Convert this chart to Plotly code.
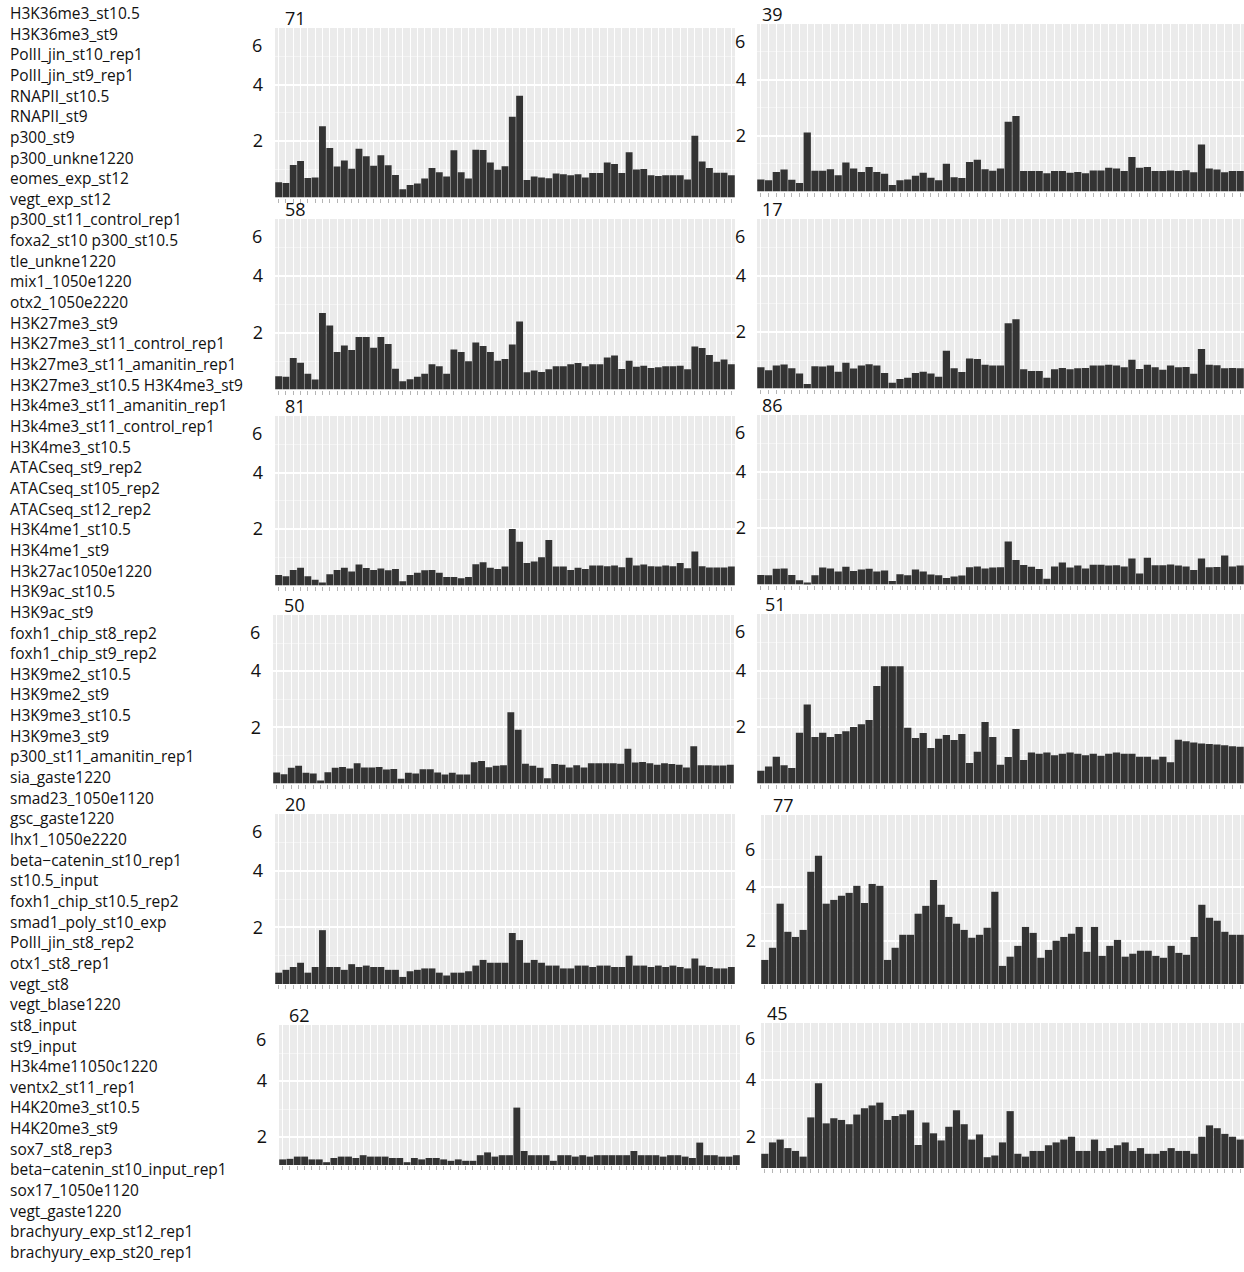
import plotly.graph_objects as go

W, H = 1244, 1272

row_labels = [
    "H3K36me3_st10.5", "H3K36me3_st9", "PolII_jin_st10_rep1", "PolII_jin_st9_rep1",
    "RNAPII_st10.5", "RNAPII_st9", "p300_st9", "p300_unkne1220", "eomes_exp_st12",
    "vegt_exp_st12", "p300_st11_control_rep1", "foxa2_st10 p300_st10.5", "tle_unkne1220",
    "mix1_1050e1220", "otx2_1050e2220", "H3K27me3_st9", "H3K27me3_st11_control_rep1",
    "H3k27me3_st11_amanitin_rep1", "H3K27me3_st10.5 H3K4me3_st9", "H3k4me3_st11_amanitin_rep1",
    "H3k4me3_st11_control_rep1", "H3K4me3_st10.5", "ATACseq_st9_rep2", "ATACseq_st105_rep2",
    "ATACseq_st12_rep2", "H3K4me1_st10.5", "H3K4me1_st9", "H3k27ac1050e1220", "H3K9ac_st10.5",
    "H3K9ac_st9", "foxh1_chip_st8_rep2", "foxh1_chip_st9_rep2", "H3K9me2_st10.5", "H3K9me2_st9",
    "H3K9me3_st10.5", "H3K9me3_st9", "p300_st11_amanitin_rep1", "sia_gaste1220",
    "smad23_1050e1120", "gsc_gaste1220", "lhx1_1050e2220", "beta\u2212catenin_st10_rep1",
    "st10.5_input", "foxh1_chip_st10.5_rep2", "smad1_poly_st10_exp", "PolII_jin_st8_rep2",
    "otx1_st8_rep1", "vegt_st8", "vegt_blase1220", "st8_input", "st9_input", "H3k4me11050c1220",
    "ventx2_st11_rep1", "H4K20me3_st10.5", "H4K20me3_st9", "sox7_st8_rep3",
    "beta\u2212catenin_st10_input_rep1", "sox17_1050e1120", "vegt_gaste1220",
    "brachyury_exp_st12_rep1", "brachyury_exp_st20_rep1",
]

bins = list(range(1, 64))

panel_titles = ["71", "39", "58", "17", "81", "86", "50", "51", "20", "77", "62", "45"]

v71 = [0.54, 0.51, 1.15, 1.29, 0.69, 0.71, 2.52, 1.75, 1.10, 1.31, 1.02, 1.73, 1.46, 1.12, 1.50, 1.14,
       0.80, 0.29, 0.44, 0.50, 0.67, 1.04, 0.89, 0.74, 1.67, 0.89, 0.67, 1.69, 1.68, 1.24, 0.98, 1.11,
       2.86, 3.60, 0.62, 0.74, 0.71, 0.68, 0.85, 0.82, 0.79, 0.82, 0.71, 0.87, 0.87, 1.24, 1.19, 0.87,
       1.60, 0.99, 1.01, 0.79, 0.76, 0.79, 0.79, 0.79, 0.64, 2.19, 1.27, 1.04, 0.88, 0.88, 0.79]
v39 = [0.43, 0.40, 0.70, 0.79, 0.42, 0.30, 2.11, 0.74, 0.74, 0.80, 0.58, 1.04, 0.82, 0.70, 0.88, 0.70,
       0.64, 0.23, 0.40, 0.43, 0.56, 0.67, 0.49, 0.40, 0.99, 0.51, 0.48, 1.06, 1.14, 0.80, 0.74, 0.82,
       2.50, 2.70, 0.73, 0.73, 0.73, 0.65, 0.73, 0.73, 0.67, 0.70, 0.65, 0.75, 0.75, 0.85, 0.82, 0.73,
       1.24, 0.85, 0.88, 0.73, 0.73, 0.75, 0.73, 0.76, 0.69, 1.68, 0.82, 0.79, 0.69, 0.73, 0.73]
v58 = [0.47, 0.45, 1.11, 0.94, 0.55, 0.35, 2.69, 2.25, 1.32, 1.55, 1.39, 1.85, 1.85, 1.47, 1.85, 1.60,
       0.73, 0.29, 0.36, 0.45, 0.55, 0.89, 0.82, 0.55, 1.41, 1.32, 0.99, 1.65, 1.53, 1.32, 1.01, 1.07,
       1.58, 2.39, 0.61, 0.67, 0.62, 0.71, 0.82, 0.82, 0.89, 0.93, 0.82, 0.89, 0.89, 1.13, 1.20, 0.72,
       1.01, 0.80, 0.84, 0.76, 0.78, 0.82, 0.82, 0.84, 0.71, 1.51, 1.46, 1.21, 0.98, 1.06, 0.89]
v17 = [0.75, 0.65, 0.81, 0.85, 0.72, 0.53, 0.16, 0.79, 0.78, 0.81, 0.59, 0.91, 0.71, 0.81, 0.86, 0.81,
       0.55, 0.20, 0.34, 0.38, 0.55, 0.59, 0.53, 0.42, 1.34, 0.72, 0.58, 1.06, 1.04, 0.84, 0.81, 0.81,
       2.31, 2.45, 0.68, 0.62, 0.62, 0.38, 0.68, 0.73, 0.68, 0.72, 0.73, 0.81, 0.81, 0.84, 0.81, 0.75,
       1.02, 0.69, 0.84, 0.75, 0.66, 0.81, 0.75, 0.76, 0.52, 1.40, 0.84, 0.82, 0.72, 0.73, 0.72]
v81 = [0.37, 0.33, 0.55, 0.63, 0.33, 0.20, 0.11, 0.40, 0.55, 0.63, 0.50, 0.74, 0.62, 0.55, 0.60, 0.54,
       0.58, 0.15, 0.37, 0.45, 0.54, 0.55, 0.45, 0.30, 0.30, 0.26, 0.30, 0.75, 0.82, 0.63, 0.58, 0.67,
       2.00, 1.55, 0.80, 0.85, 1.00, 1.61, 0.67, 0.67, 0.55, 0.63, 0.58, 0.71, 0.71, 0.68, 0.71, 0.65,
       0.98, 0.71, 0.74, 0.68, 0.67, 0.71, 0.68, 0.80, 0.61, 1.20, 0.68, 0.64, 0.64, 0.64, 0.67]
v86 = [0.34, 0.33, 0.56, 0.57, 0.34, 0.15, 0.07, 0.33, 0.60, 0.57, 0.46, 0.63, 0.48, 0.53, 0.56, 0.46,
       0.50, 0.12, 0.36, 0.33, 0.53, 0.46, 0.35, 0.33, 0.23, 0.28, 0.32, 0.61, 0.64, 0.57, 0.60, 0.61,
       1.52, 0.87, 0.69, 0.63, 0.55, 0.20, 0.64, 0.78, 0.60, 0.67, 0.57, 0.70, 0.70, 0.67, 0.68, 0.64,
       0.92, 0.39, 0.95, 0.68, 0.68, 0.71, 0.67, 0.64, 0.51, 0.92, 0.61, 0.62, 1.03, 0.64, 0.67]
v50 = [0.39, 0.33, 0.56, 0.63, 0.38, 0.36, 0.11, 0.40, 0.56, 0.59, 0.53, 0.72, 0.57, 0.57, 0.59, 0.50,
       0.52, 0.17, 0.38, 0.36, 0.51, 0.51, 0.39, 0.32, 0.38, 0.32, 0.32, 0.76, 0.80, 0.58, 0.63, 0.65,
       2.54, 1.91, 0.70, 0.63, 0.56, 0.19, 0.69, 0.67, 0.57, 0.65, 0.57, 0.72, 0.72, 0.72, 0.72, 0.70,
       1.24, 0.75, 0.77, 0.72, 0.67, 0.72, 0.69, 0.67, 0.57, 1.33, 0.65, 0.65, 0.64, 0.64, 0.67]
v51 = [0.45, 0.60, 0.95, 0.65, 0.55, 1.80, 2.80, 1.65, 1.80, 1.65, 1.75, 1.85, 2.00, 2.10, 2.25, 3.45,
       4.15, 4.15, 4.15, 1.97, 1.61, 1.79, 1.26, 1.58, 1.72, 1.54, 1.75, 0.73, 1.12, 2.18, 1.65, 0.66,
       0.94, 1.93, 0.83, 1.10, 1.05, 1.10, 1.00, 1.05, 1.10, 1.05, 1.00, 1.05, 0.98, 1.05, 1.10, 1.05,
       1.05, 0.95, 0.95, 0.85, 0.95, 0.75, 1.55, 1.50, 1.45, 1.42, 1.40, 1.38, 1.35, 1.32, 1.30]
v20 = [0.40, 0.50, 0.60, 0.75, 0.40, 0.60, 1.90, 0.60, 0.60, 0.50, 0.70, 0.60, 0.65, 0.60, 0.60, 0.50,
       0.50, 0.25, 0.45, 0.50, 0.55, 0.55, 0.40, 0.30, 0.40, 0.40, 0.45, 0.65, 0.85, 0.75, 0.75, 0.75,
       1.80, 1.55, 0.75, 0.85, 0.75, 0.65, 0.65, 0.55, 0.55, 0.65, 0.65, 0.60, 0.65, 0.65, 0.60, 0.60,
       1.00, 0.65, 0.65, 0.60, 0.65, 0.60, 0.65, 0.60, 0.55, 0.90, 0.65, 0.60, 0.55, 0.55, 0.60]
v77 = [1.29, 1.74, 3.37, 2.33, 2.14, 2.40, 4.55, 5.14, 3.37, 3.51, 3.66, 3.77, 4.03, 3.40, 4.10, 4.03,
       1.29, 1.74, 2.22, 2.22, 3.00, 3.29, 4.25, 3.33, 2.88, 2.63, 2.40, 2.11, 2.22, 2.48, 3.81, 1.07,
       1.41, 1.81, 2.51, 2.29, 1.37, 1.66, 2.00, 2.14, 2.26, 2.51, 1.59, 2.51, 1.44, 1.81, 2.03, 1.41,
       1.52, 1.63, 1.63, 1.44, 1.37, 1.81, 1.55, 1.48, 2.14, 3.33, 2.85, 2.74, 2.33, 2.22, 2.22]
v62 = [1.20, 1.22, 1.30, 1.30, 1.20, 1.20, 1.10, 1.25, 1.30, 1.30, 1.25, 1.35, 1.30, 1.30, 1.30, 1.25,
       1.25, 1.10, 1.25, 1.20, 1.25, 1.25, 1.20, 1.15, 1.20, 1.15, 1.15, 1.35, 1.45, 1.30, 1.35, 1.35,
       3.05, 1.50, 1.35, 1.35, 1.35, 1.15, 1.35, 1.35, 1.30, 1.35, 1.30, 1.35, 1.35, 1.35, 1.35, 1.35,
       1.50, 1.35, 1.35, 1.35, 1.30, 1.35, 1.35, 1.30, 1.25, 1.80, 1.35, 1.35, 1.30, 1.30, 1.35]
v45 = [1.40, 1.80, 1.90, 1.60, 1.50, 1.30, 2.68, 3.88, 2.47, 2.65, 2.59, 2.44, 2.78, 3.00, 3.10, 3.20,
       2.59, 2.73, 2.79, 2.93, 1.71, 2.50, 2.12, 1.87, 2.35, 2.93, 2.44, 1.90, 2.08, 1.28, 1.34, 1.80,
       2.90, 1.40, 1.30, 1.50, 1.50, 1.70, 1.80, 1.90, 2.00, 1.50, 1.50, 1.90, 1.50, 1.60, 1.70, 1.80,
       1.50, 1.60, 1.40, 1.40, 1.50, 1.60, 1.50, 1.50, 1.40, 2.00, 2.40, 2.30, 2.10, 2.00, 1.90]

series = [v71, v39, v58, v17, v81, v86, v50, v51, v20, v77, v62, v45]

# panel boxes in pixels: (left, right, top, bottom, ymin, ymax, label gap, title offset)
boxes = [
    (275, 735, 28, 197.5, 0, 6, 11, 8), (757, 1244, 24, 191.5, 0, 6, 10, 3),
    (275, 735, 219, 389.5, 0, 6, 11, 8), (757, 1244, 219, 388.5, 0, 6, 10, 3),
    (275, 735, 416, 585.5, 0, 6, 11, 8), (757, 1244, 415, 584.5, 0, 6, 10, 3),
    (273, 734, 615, 783.5, 0, 6, 11, 9), (757, 1244, 614, 783.5, 0, 6, 10, 6),
    (275, 735, 814, 984, 0, 6, 11, 8), (761, 1244, 815, 984, 0.4, 6.65, 4, 10),
    (279, 740, 1025, 1165, 1.0, 6, 11, 8), (761, 1244, 1023, 1168, 0.9, 6, 4, 4),
]

fig = go.Figure()
layout = dict(
    width=W, height=H, margin=dict(l=0, r=0, t=0, b=0),
    paper_bgcolor="white", plot_bgcolor="white", showlegend=False,
    font=dict(family="Open Sans", color="#111111"),
    bargap=0.06,
)
annotations = []
shapes = []

for i, (vals, box, title) in enumerate(zip(series, boxes, panel_titles)):
    n = i + 1
    xa = "x" if n == 1 else f"x{n}"
    ya = "y" if n == 1 else f"y{n}"
    left, right, top, bottom, ymin, ymax, gap, toff = box
    fig.add_trace(go.Bar(x=bins, y=vals, xaxis=xa, yaxis=ya,
                         marker=dict(color="#333333", line=dict(width=0))))
    xkey = "xaxis" if n == 1 else f"xaxis{n}"
    ykey = "yaxis" if n == 1 else f"yaxis{n}"
    layout[xkey] = dict(
        domain=[left / W, right / W], anchor=ya, range=[0.5, 63.5],
        tickvals=bins, showticklabels=False, ticks="outside", ticklen=4,
        tickcolor="#b5b5b5", tickwidth=1, showgrid=True, gridcolor="white",
        gridwidth=1, zeroline=False, showline=False, fixedrange=True,
    )
    layout[ykey] = dict(
        domain=[1 - bottom / H, 1 - top / H], anchor=xa, range=[ymin, ymax],
        tickvals=[2, 4], ticktext=["2", "4"], ticks="", ticklabelstandoff=gap,
        tickfont=dict(size=18, color="#111111"),
        showgrid=True, gridcolor="white", gridwidth=1.5, zeroline=False,
        minor=dict(tickvals=[1, 3, 5], showgrid=True, gridcolor="#f4f4f4", gridwidth=0.8),
        fixedrange=True,
    )
    shapes.append(dict(type="rect", xref="paper", yref="paper", layer="below",
                       x0=left / W, x1=right / W, y0=1 - bottom / H, y1=1 - top / H,
                       fillcolor="#EBEBEB", line=dict(width=0)))
    annotations.append(dict(text="6", xref="paper", yref=ya, x=(left - gap) / W,
                            y=ymin + (ymax - ymin) * (5.4 / 6.0) if ymin > 0.5 else 5.4,
                            xanchor="right", yanchor="middle", showarrow=False,
                            font=dict(size=18, color="#111111")))
    annotations.append(dict(text=title, xref="paper", yref="paper", x=(left + toff) / W,
                            y=1 - (top - 10) / H, xanchor="left", yanchor="middle",
                            showarrow=False, font=dict(size=18, color="#111111")))

for k, lab in enumerate(row_labels):
    py = 13 + k * 20.65
    annotations.append(dict(text=lab, xref="paper", yref="paper", x=8 / W, y=1 - py / H,
                            xanchor="left", yanchor="middle", showarrow=False,
                            font=dict(size=15.5, color="#111111")))

layout["annotations"] = annotations
layout["shapes"] = shapes
fig.update_layout(**layout)
fig.write_html("out.html")
